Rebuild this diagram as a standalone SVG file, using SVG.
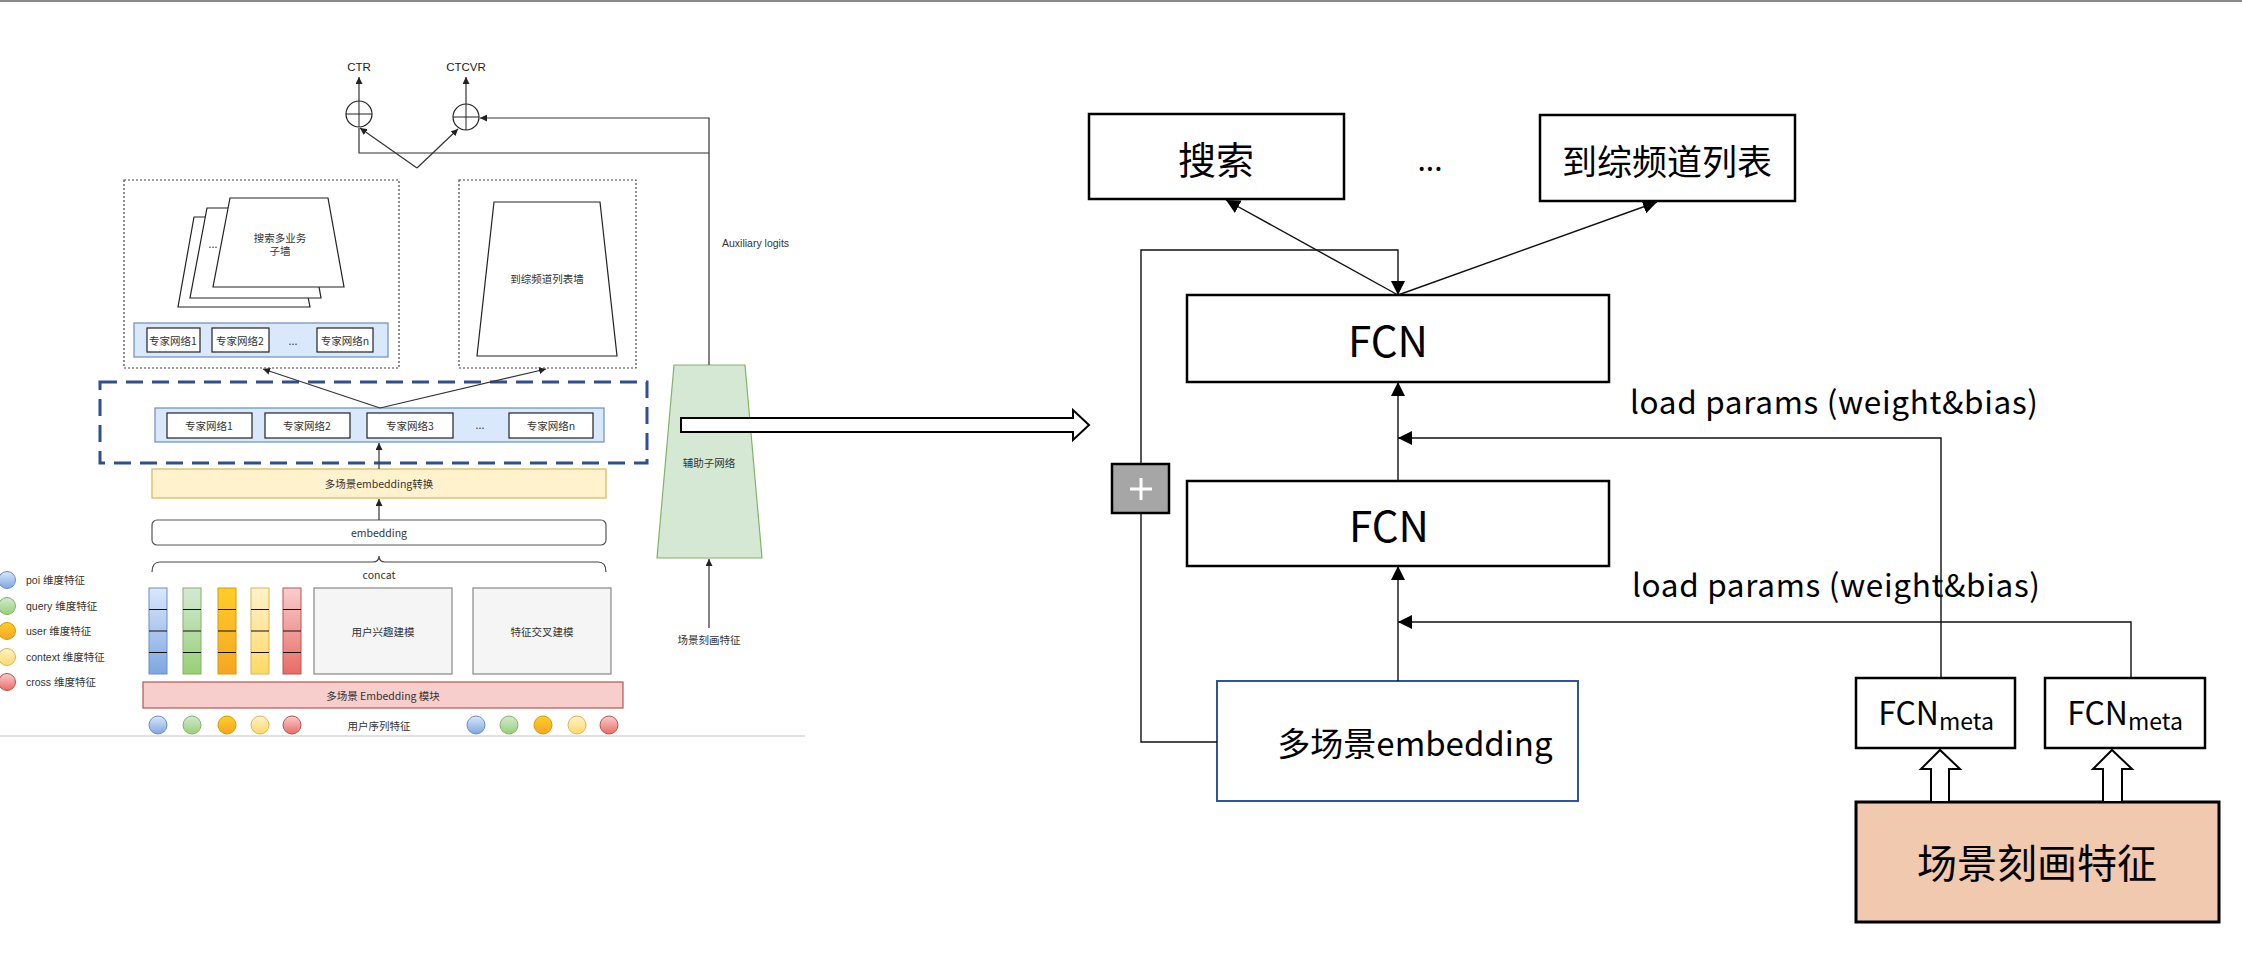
<svg xmlns="http://www.w3.org/2000/svg" width="2242" height="970" viewBox="0 0 2242 970">
<style>
.bg{fill:#ffffff}
.ln{fill:none;stroke:#333;stroke-width:1.2}
.lnR{fill:none;stroke:#111;stroke-width:1.4}
.dot{fill:none;stroke:#444;stroke-width:1.2;stroke-dasharray:2 2}
.wbox{fill:#fff;stroke:#222;stroke-width:1.2}
.sL{font-family:"Liberation Sans","Noto Sans CJK SC",sans-serif;font-size:11.5px;fill:#222;text-anchor:middle;dominant-baseline:central}
.sC{font-family:"Noto Sans CJK SC","Liberation Sans",sans-serif;font-size:10.5px;fill:#333;text-anchor:middle;dominant-baseline:central}
.leg{font-family:"Liberation Sans","Noto Sans CJK SC",sans-serif;font-size:10.5px;fill:#333;dominant-baseline:central}
.rb{fill:#fff;stroke:#000;stroke-width:2.5}
.rt{font-family:"Noto Sans CJK SC","Liberation Sans",sans-serif;fill:#000;text-anchor:middle;dominant-baseline:central}
.lp{font-family:"Noto Sans CJK SC","Liberation Sans",sans-serif;font-size:31.5px;fill:#000}
</style>
<defs>
<marker id="aR" viewBox="0 0 14 14" refX="14" refY="7" markerWidth="14" markerHeight="14" markerUnits="userSpaceOnUse" orient="auto"><path d="M0,0 L14,7 L0,14 z" fill="#000"/></marker>
<marker id="aS" viewBox="0 0 8 8" refX="8" refY="4" markerWidth="7" markerHeight="7" markerUnits="userSpaceOnUse" orient="auto"><path d="M0,0 L8,4 L0,8 z" fill="#222"/></marker>
<linearGradient id="gB" x1="0" y1="0" x2="0" y2="1"><stop offset="0" stop-color="#dae8fc"/><stop offset="1" stop-color="#7ea6e0"/></linearGradient>
<linearGradient id="gG" x1="0" y1="0" x2="0" y2="1"><stop offset="0" stop-color="#d5e8d4"/><stop offset="1" stop-color="#97d077"/></linearGradient>
<linearGradient id="gO" x1="0" y1="0" x2="0" y2="1"><stop offset="0" stop-color="#ffcd28"/><stop offset="1" stop-color="#f5a623"/></linearGradient>
<linearGradient id="gY" x1="0" y1="0" x2="0" y2="1"><stop offset="0" stop-color="#fff2cc"/><stop offset="1" stop-color="#ffd966"/></linearGradient>
<linearGradient id="gR" x1="0" y1="0" x2="0" y2="1"><stop offset="0" stop-color="#f8cecc"/><stop offset="1" stop-color="#ea6b66"/></linearGradient>
</defs>
<rect class="bg" x="0" y="0" width="2242" height="970"/>
<line x1="0" y1="1" x2="2242" y2="1" stroke="#8a8a8a" stroke-width="2"/>
<line x1="0" y1="736" x2="805" y2="736" stroke="#c4c4c4" stroke-width="1.2"/>

<!-- LEFT DIAGRAM -->
<g id="ctr">
<circle cx="359" cy="114" r="13" fill="#fff" stroke="#222" stroke-width="1.2"/>
<line x1="346" y1="114" x2="372" y2="114" stroke="#222" stroke-width="1"/>
<line x1="359" y1="101" x2="359" y2="127" stroke="#222" stroke-width="1"/>
<text class="sL" x="359" y="67">CTR</text>
</g>
<g id="ctcvr">
<circle cx="466" cy="117" r="13" fill="#fff" stroke="#222" stroke-width="1.2"/>
<line x1="453" y1="117" x2="479" y2="117" stroke="#222" stroke-width="1"/>
<line x1="466" y1="104" x2="466" y2="130" stroke="#222" stroke-width="1"/>
<text class="sL" x="466" y="67">CTCVR</text>
</g>
<g id="box-search-tower">
<rect class="dot" x="124" y="180" width="275" height="188"/>
<polygon points="194,217 292,217 310,307 178,307" class="wbox"/>
<polygon points="207,208 305,208 321,298 190,298" class="wbox"/>
<polygon points="230,198 328,198 344,287 213,287" class="wbox"/>
<text class="sC" x="213" y="243" font-size="9">...</text>
<text class="sC" x="280" y="237">搜索多业务</text>
<text class="sC" x="280" y="250">子墙</text>
<rect x="134" y="323" width="254" height="34" fill="#dae8fc" stroke="#6c8ebf" stroke-width="1.2"/>
<rect class="wbox" x="147" y="328" width="53" height="24"/>
<rect class="wbox" x="212" y="328" width="57" height="24"/>
<rect class="wbox" x="317" y="328" width="56" height="24"/>
<text class="sC" x="173" y="340">专家网络1</text>
<text class="sC" x="240" y="340">专家网络2</text>
<text class="sC" x="293" y="340">...</text>
<text class="sC" x="345" y="340">专家网络n</text>
</g>
<g id="box-list-tower">
<rect class="dot" x="459" y="180" width="177" height="188"/>
<polygon points="494,202 600,202 617,356 477,356" class="wbox"/>
<text class="sC" x="547" y="278">到综频道列表墙</text>
</g>
<g id="expert-shared">
<rect x="100" y="382" width="547" height="81" fill="none" stroke="#2f4f8f" stroke-width="3" stroke-dasharray="17 9"/>
<rect x="155" y="408" width="449" height="34" fill="#dae8fc" stroke="#6c8ebf" stroke-width="1.2"/>
<rect class="wbox" x="167" y="413" width="85" height="25"/>
<rect class="wbox" x="265" y="413" width="85" height="25"/>
<rect class="wbox" x="367" y="413" width="86" height="25"/>
<rect class="wbox" x="509" y="413" width="84" height="25"/>
<text class="sC" x="209" y="425.5">专家网络1</text>
<text class="sC" x="307" y="425.5">专家网络2</text>
<text class="sC" x="410" y="425.5">专家网络3</text>
<text class="sC" x="480" y="424">...</text>
<text class="sC" x="551" y="425.5">专家网络n</text>
</g>
<g id="emb-transform">
<rect x="152" y="469" width="454" height="29" fill="#fff2cc" stroke="#d6b656" stroke-width="1.2"/>
<text class="sC" x="379" y="483.5">多场景embedding转换</text>
</g>
<g id="embedding">
<rect x="152" y="520" width="454" height="25" rx="5" fill="#fff" stroke="#555" stroke-width="1.2"/>
<text class="sC" x="379" y="532.5">embedding</text>
</g>
<g id="concat">
<path d="M152,572 Q152,562 160,562 L373,562 Q379,562 379,556 Q379,562 385,562 L598,562 Q606,562 606,572" fill="none" stroke="#444" stroke-width="1.2"/>
<text class="sC" x="379" y="574">concat</text>
</g>
<g id="feature-columns">
<rect x="149" y="588" width="18" height="86" fill="url(#gB)" stroke="#6c8ebf"/>
<rect x="183" y="588" width="18" height="86" fill="url(#gG)" stroke="#82b366"/>
<rect x="218" y="588" width="18" height="86" fill="url(#gO)" stroke="#d79b00"/>
<rect x="251" y="588" width="18" height="86" fill="url(#gY)" stroke="#d6b656"/>
<rect x="283" y="588" width="18" height="86" fill="url(#gR)" stroke="#b85450"/>
<path d="M149,609.5h18M149,631h18M149,652.5h18M183,609.5h18M183,631h18M183,652.5h18M218,609.5h18M218,631h18M218,652.5h18M251,609.5h18M251,631h18M251,652.5h18M283,609.5h18M283,631h18M283,652.5h18" stroke="#111" stroke-width="1"/>
</g>
<g id="user-interest">
<rect x="314" y="588" width="138" height="86" fill="#f5f5f5" stroke="#888" stroke-width="1.2"/>
<text class="sC" x="383" y="631">用户兴趣建模</text>
</g>
<g id="feature-cross">
<rect x="473" y="588" width="138" height="86" fill="#f5f5f5" stroke="#888" stroke-width="1.2"/>
<text class="sC" x="542" y="631">特征交叉建模</text>
</g>
<g id="emb-module">
<rect x="143" y="682" width="480" height="26" fill="#f8cecc" stroke="#b85450" stroke-width="1.2"/>
<text class="sC" x="383" y="695">多场景 Embedding 模块</text>
</g>
<g id="seq-features">
<circle cx="158" cy="725" r="9" fill="url(#gB)" stroke="#6c8ebf"/>
<circle cx="192" cy="725" r="9" fill="url(#gG)" stroke="#82b366"/>
<circle cx="227" cy="725" r="9" fill="url(#gO)" stroke="#d79b00"/>
<circle cx="260" cy="725" r="9" fill="url(#gY)" stroke="#d6b656"/>
<circle cx="292" cy="725" r="9" fill="url(#gR)" stroke="#b85450"/>
<text class="sC" x="379" y="725">用户序列特征</text>
<circle cx="476" cy="725" r="9" fill="url(#gB)" stroke="#6c8ebf"/>
<circle cx="509" cy="725" r="9" fill="url(#gG)" stroke="#82b366"/>
<circle cx="543" cy="725" r="9" fill="url(#gO)" stroke="#d79b00"/>
<circle cx="577" cy="725" r="9" fill="url(#gY)" stroke="#d6b656"/>
<circle cx="609" cy="725" r="9" fill="url(#gR)" stroke="#b85450"/>
</g>
<g id="legend">
<circle cx="7" cy="580" r="8.5" fill="url(#gB)" stroke="#6c8ebf"/>
<circle cx="7" cy="606" r="8.5" fill="url(#gG)" stroke="#82b366"/>
<circle cx="7" cy="631" r="8.5" fill="url(#gO)" stroke="#d79b00"/>
<circle cx="7" cy="657" r="8.5" fill="url(#gY)" stroke="#d6b656"/>
<circle cx="7" cy="682" r="8.5" fill="url(#gR)" stroke="#b85450"/>
<text class="leg" x="26" y="580">poi 维度特征</text>
<text class="leg" x="26" y="606">query 维度特征</text>
<text class="leg" x="26" y="631">user 维度特征</text>
<text class="leg" x="26" y="657">context 维度特征</text>
<text class="leg" x="26" y="682">cross 维度特征</text>
</g>
<g id="aux-net">
<polygon points="674,365 745,365 762,558 657,558" fill="#d5e8d4" stroke="#82b366" stroke-width="1.2"/>
<text class="sC" x="709" y="462">辅助子网络</text>
</g>
<g id="scene-feature-small">
<text class="sC" x="709" y="639">场景刻画特征</text>
</g>
<g id="aux-label">
<text class="leg" x="722" y="243" font-size="11.5px">Auxiliary logits</text>
</g>

<g id="left-connectors">
<line class="ln" x1="359" y1="101" x2="359" y2="77" marker-end="url(#aS)"/>
<line class="ln" x1="466" y1="104" x2="466" y2="77" marker-end="url(#aS)"/>
<line class="ln" x1="417" y1="168" x2="360" y2="128" marker-end="url(#aS)"/>
<line class="ln" x1="417" y1="168" x2="458" y2="129" marker-end="url(#aS)"/>
<path class="ln" d="M709,365 V118 H480" marker-end="url(#aS)"/>
<path class="ln" d="M709,153 H359 V128"/>
<line class="ln" x1="380" y1="408" x2="263" y2="369" marker-end="url(#aS)"/>
<line class="ln" x1="380" y1="408" x2="546" y2="369" marker-end="url(#aS)"/>
<line class="ln" x1="379" y1="469" x2="379" y2="443" marker-end="url(#aS)"/>
<line class="ln" x1="379" y1="520" x2="379" y2="499" marker-end="url(#aS)"/>
<line class="ln" x1="709" y1="628" x2="709" y2="559" marker-end="url(#aS)"/>
</g>

<g id="big-arrow">
<polygon points="681,418 1073,418 1073,410 1089,425 1073,440 1073,432 681,432" fill="#fff" stroke="#000" stroke-width="2"/>
</g>

<!-- RIGHT DIAGRAM -->
<g id="search">
<rect class="rb" x="1089" y="114" width="255" height="85"/>
<text class="rt" x="1216" y="157" font-size="38">搜索</text>
</g>
<g id="dots-r">
<text class="rt" x="1430" y="158" font-size="30">...</text>
</g>
<g id="list">
<rect class="rb" x="1540" y="115" width="255" height="86"/>
<text class="rt" x="1667" y="159" font-size="35">到综频道列表</text>
</g>
<g id="fcn1">
<rect class="rb" x="1187" y="295" width="422" height="87"/>
<text class="rt" x="1388" y="338" font-size="42">FCN</text>
</g>
<g id="fcn2">
<rect class="rb" x="1187" y="481" width="422" height="85"/>
<text class="rt" x="1389" y="523" font-size="42">FCN</text>
</g>
<g id="plus">
<rect x="1112" y="464" width="57" height="49" fill="#a6a6a6" stroke="#000" stroke-width="2.5"/>
<path d="M1130,489 H1152 M1141,478 V500" stroke="#fff" stroke-width="3"/>
</g>
<g id="multi-emb">
<rect x="1217" y="681" width="361" height="120" fill="#fff" stroke="#2f5597" stroke-width="2"/>
<text class="rt" x="1415" y="742" font-size="33">多场景embedding</text>
</g>
<g id="fcnmeta1">
<rect class="rb" x="1856" y="678" width="159" height="70"/>
<text class="rt" x="1936" y="711" font-size="32">FCN<tspan font-size="23" dy="9">meta</tspan></text>
</g>
<g id="fcnmeta2">
<rect class="rb" x="2045" y="678" width="160" height="70"/>
<text class="rt" x="2125" y="711" font-size="32">FCN<tspan font-size="23" dy="9">meta</tspan></text>
</g>
<g id="scene-feature">
<rect x="1856" y="802" width="363" height="120" fill="#f1c9ae" stroke="#000" stroke-width="3"/>
<text class="rt" x="2037" y="861" font-size="40">场景刻画特征</text>
</g>
<g id="labels">
<text class="lp" x="1630" y="414" textLength="408" lengthAdjust="spacing">load params (weight&amp;bias)</text>
<text class="lp" x="1632" y="597" textLength="408" lengthAdjust="spacing">load params (weight&amp;bias)</text>
</g>

<g id="right-connectors">
<line class="lnR" x1="1398" y1="295" x2="1226" y2="200" marker-end="url(#aR)"/>
<line class="lnR" x1="1398" y1="295" x2="1657" y2="202" marker-end="url(#aR)"/>
<path class="lnR" d="M1141,464 V250 H1398 V295" marker-end="url(#aR)"/>
<path class="lnR" d="M1141,513 V742 H1217"/>
<line class="lnR" x1="1398" y1="481" x2="1398" y2="382" marker-end="url(#aR)"/>
<line class="lnR" x1="1398" y1="681" x2="1398" y2="566" marker-end="url(#aR)"/>
<path class="lnR" d="M1941,678 V438 H1398" marker-end="url(#aR)"/>
<path class="lnR" d="M2131,678 V622 H1398" marker-end="url(#aR)"/>
<polygon points="1931,802 1931,769 1921,769 1940,750 1960,769 1949,769 1949,802" fill="#fff" stroke="#000" stroke-width="2"/>
<polygon points="2103,802 2103,769 2093,769 2112,750 2132,769 2122,769 2122,802" fill="#fff" stroke="#000" stroke-width="2"/>
</g>
</svg>
